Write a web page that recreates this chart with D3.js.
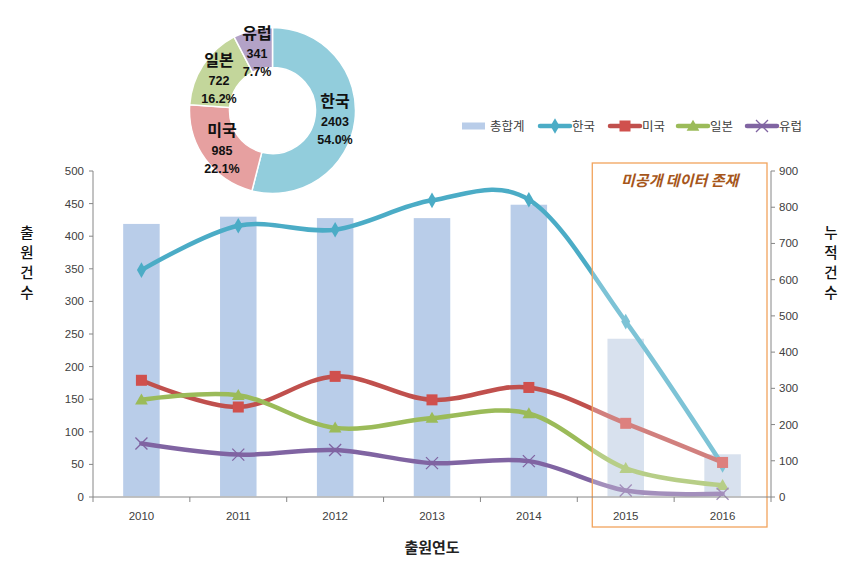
<!DOCTYPE html>
<html><head><meta charset="utf-8">
<script src="https://cdn.jsdelivr.net/npm/d3@7"></script>
<style>
html,body{margin:0;padding:0;background:#fff;}
svg{display:block;}
</style>
</head><body>
<svg id="c" width="855" height="568"></svg>
<script>
const years = ["2010","2011","2012","2013","2014","2015","2016"];
const totals = [756, 776, 772, 772, 809, 439, 120];
const korea  = [348, 416, 410, 455, 456, 269, 49];
const usa    = [179, 138, 185, 149, 168, 113, 53];
const japan  = [149, 156, 106, 121, 128, 44, 18];
const europe = [82, 65, 72, 52, 55, 10, 5];
const leftTicks = [0,50,100,150,200,250,300,350,400,450,500];
const rightTicks = [0,100,200,300,400,500,600,700,800,900];
const pieNames = ["한국","미국","일본","유럽"];
const pieValues = [2403, 985, 722, 341];
const piePcts = ["54.0%","22.1%","16.2%","7.7%"];
const legendNames = ["총합계","한국","미국","일본","유럽"];
const annotation = "미공개 데이터 존재";

const svg = d3.select("#c");
const x = d3.scaleBand().domain(years).range([93, 771]);
const yL = d3.scaleLinear().domain([0,500]).range([497,171]);
const yR = d3.scaleLinear().domain([0,900]).range([497,171]);
const axisColor = "#868686";
const txtColor = "#404040";
const font = "'Liberation Sans', Arial, sans-serif";
const kfont = "'Noto Sans CJK KR', 'Noto Sans', sans-serif";

// bars
const barW = 38;
svg.append("g").selectAll("rect").data(years).join("rect")
  .attr("x", d => x(d) + x.bandwidth()/2 - barW/2)
  .attr("y", (d,i) => yR(totals[i]))
  .attr("width", barW)
  .attr("height", (d,i) => yR(0) - yR(totals[i]))
  .attr("fill", (d,i) => i >= 5 ? "#c9d6e8" : "#b9cde9")
  .attr("stroke", "#fff").attr("stroke-width", 1.5);

// series
const series = [
  {name:"한국", vals:korea, color:"#4bacc6", mcolor:"#4bacc6", marker:"diamond"},
  {name:"미국", vals:usa, color:"#c0504d", mcolor:"#d0504d", marker:"square"},
  {name:"일본", vals:japan, color:"#9bbb59", mcolor:"#9bbb59", marker:"triangle"},
  {name:"유럽", vals:europe, color:"#8064a2", mcolor:"#8064a2", marker:"x"}
];
const cx = d => x(d) + x.bandwidth()/2;
const line = d3.line().x(d=>cx(d.y)).y(d=>yL(d.v)).curve(d3.curveCardinal.tension(0));

function drawMarker(g, type, color, px, py){
  if(type==="diamond"){
    g.append("path").attr("d",d3.symbol(d3.symbolDiamond,70)()).attr("transform",`translate(${px},${py})`).attr("fill",color);
  } else if(type==="square"){
    g.append("rect").attr("x",px-5.5).attr("y",py-5.5).attr("width",11).attr("height",11).attr("fill",color);
  } else if(type==="triangle"){
    g.append("path").attr("d",d3.symbol(d3.symbolTriangle,70)()).attr("transform",`translate(${px},${py+1})`).attr("fill",color);
  } else {
    g.append("path").attr("d",`M${px-6},${py-6}L${px+6},${py+6}M${px-6},${py+6}L${px+6},${py-6}`)
      .attr("stroke",color).attr("stroke-width",1.3).attr("fill","none");
  }
}

const gs = svg.append("g");
series.forEach(s=>{
  const pts = years.map((y,i)=>({y:y, v:s.vals[i]}));
  gs.append("path").attr("d",line(pts)).attr("fill","none").attr("stroke",s.color).attr("stroke-width",4.5).attr("stroke-linecap","round");
});
series.forEach(s=>{
  years.forEach((y,i)=> drawMarker(gs, s.marker, s.mcolor, cx(y), yL(s.vals[i])));
});

// annotation box (semi-transparent white overlay)
const bx0 = x("2015") + 15, bx1 = x.range()[1] - 4;
svg.append("rect").attr("x",bx0).attr("y",163).attr("width",bx1-bx0).attr("height",364)
  .attr("fill","#fff").attr("fill-opacity",0.28).attr("stroke","#f2a45c").attr("stroke-width",1.3);
svg.append("text").attr("x",(bx0+bx1)/2).attr("y",186).attr("text-anchor","middle")
  .attr("font-family",kfont).attr("font-size",15).attr("font-weight","bold").attr("font-style","italic")
  .attr("fill","#a6561a").text(annotation);

// axes
const gx = svg.append("g").attr("transform","translate(0,497)");
gx.append("line").attr("x1",93).attr("x2",771).attr("y1",0).attr("y2",0).attr("stroke",axisColor);
const bounds = years.map(d => x(d)).concat([x.range()[1]]);
gx.selectAll("line.t").data(bounds).join("line").attr("class","t")
  .attr("x1",d=>d).attr("x2",d=>d).attr("y1",0).attr("y2",5).attr("stroke",axisColor);
gx.selectAll("text").data(years).join("text")
  .attr("x", d => x(d) + x.bandwidth()/2).attr("y", 23)
  .attr("text-anchor","middle").attr("font-family",font).attr("font-size",11.5).attr("fill",txtColor)
  .text(d=>d);

const gl = svg.append("g").attr("transform","translate(93,0)");
gl.append("line").attr("x1",0).attr("x2",0).attr("y1",171).attr("y2",497).attr("stroke",axisColor);
gl.selectAll("line.t").data(leftTicks).join("line").attr("class","t")
  .attr("x1",-4).attr("x2",0).attr("y1",d=>yL(d)).attr("y2",d=>yL(d)).attr("stroke",axisColor);
gl.selectAll("text").data(leftTicks).join("text")
  .attr("x",-9).attr("y",d=>yL(d)+4).attr("text-anchor","end")
  .attr("font-family",font).attr("font-size",11.5).attr("fill",txtColor).text(d=>d);

const gr = svg.append("g").attr("transform","translate(771,0)");
gr.append("line").attr("x1",0).attr("x2",0).attr("y1",171).attr("y2",497).attr("stroke",axisColor);
gr.selectAll("line.t").data(rightTicks).join("line").attr("class","t")
  .attr("x1",0).attr("x2",4).attr("y1",d=>yR(d)).attr("y2",d=>yR(d)).attr("stroke",axisColor);
gr.selectAll("text").data(rightTicks).join("text")
  .attr("x",8).attr("y",d=>yR(d)+4).attr("text-anchor","start")
  .attr("font-family",font).attr("font-size",11.5).attr("fill",txtColor).text(d=>d);

// axis titles
svg.append("text").attr("x",432).attr("y",553).attr("text-anchor","middle")
  .attr("font-family",kfont).attr("font-size",15).attr("font-weight","bold").attr("fill","#222").text("출원연도");
function vtitle(str, cxp, y0){
  const t = svg.append("text").attr("font-family",kfont).attr("font-size",14.5).attr("font-weight","500").attr("fill","#111").attr("text-anchor","middle");
  [...str].forEach((ch,i)=>{ t.append("tspan").attr("x",cxp).attr("y",y0+i*20).text(ch); });
}
vtitle("출원건수", 27, 238);
vtitle("누적건수", 831, 238);

// legend
const lg = svg.append("g");
const ly = 126;
lg.append("rect").attr("x",462).attr("y",ly-3.5).attr("width",23).attr("height",7).attr("fill","#b9cde9");
lg.append("text").attr("x",490).attr("y",ly+5).attr("font-family",kfont).attr("font-size",12.5).attr("fill",txtColor).text(legendNames[0]);
const lx = [540, 610, 678, 747];
series.forEach((s,i)=>{
  const x0 = lx[i];
  lg.append("line").attr("x1",x0).attr("x2",x0+30).attr("y1",ly).attr("y2",ly).attr("stroke",s.color).attr("stroke-width",4.5).attr("stroke-linecap","round");
  drawMarker(lg, s.marker, s.mcolor, x0+15, ly);
  lg.append("text").attr("x",x0+32).attr("y",ly+5).attr("font-family",kfont).attr("font-size",12.5).attr("fill",txtColor).text(legendNames[i+1]);
});

// donut
const pcx = 272.5, pcy = 110.5;
const pieColors = ["#92cddc","#e6a0a0","#c3d69b","#b3a2c7"];
const pie = d3.pie().sort(null)(pieValues);
const arc = d3.arc().innerRadius(43).outerRadius(83);
const pg = svg.append("g").attr("transform",`translate(${pcx},${pcy})`);
pg.selectAll("path").data(pie).join("path").attr("d",arc)
  .attr("fill",(d,i)=>pieColors[i]).attr("stroke","#fff").attr("stroke-width",1.5);
const labelPos = [[335,101],[222,130],[219,60],[257,33]];
pieNames.forEach((n,i)=>{
  const [lxp,lyp] = labelPos[i];
  const t = svg.append("text").attr("text-anchor","middle").attr("fill","#111");
  t.append("tspan").attr("x",lxp).attr("y",lyp+6).attr("font-family",kfont).attr("font-size",16).attr("font-weight","bold").text(n);
  t.append("tspan").attr("x",lxp).attr("y",lyp+25).attr("font-family",font).attr("font-size",12.5).attr("font-weight","bold").text(pieValues[i]);
  t.append("tspan").attr("x",lxp).attr("y",lyp+43).attr("font-family",font).attr("font-size",12.5).attr("font-weight","bold").text(piePcts[i]);
});
</script>
</body></html>
